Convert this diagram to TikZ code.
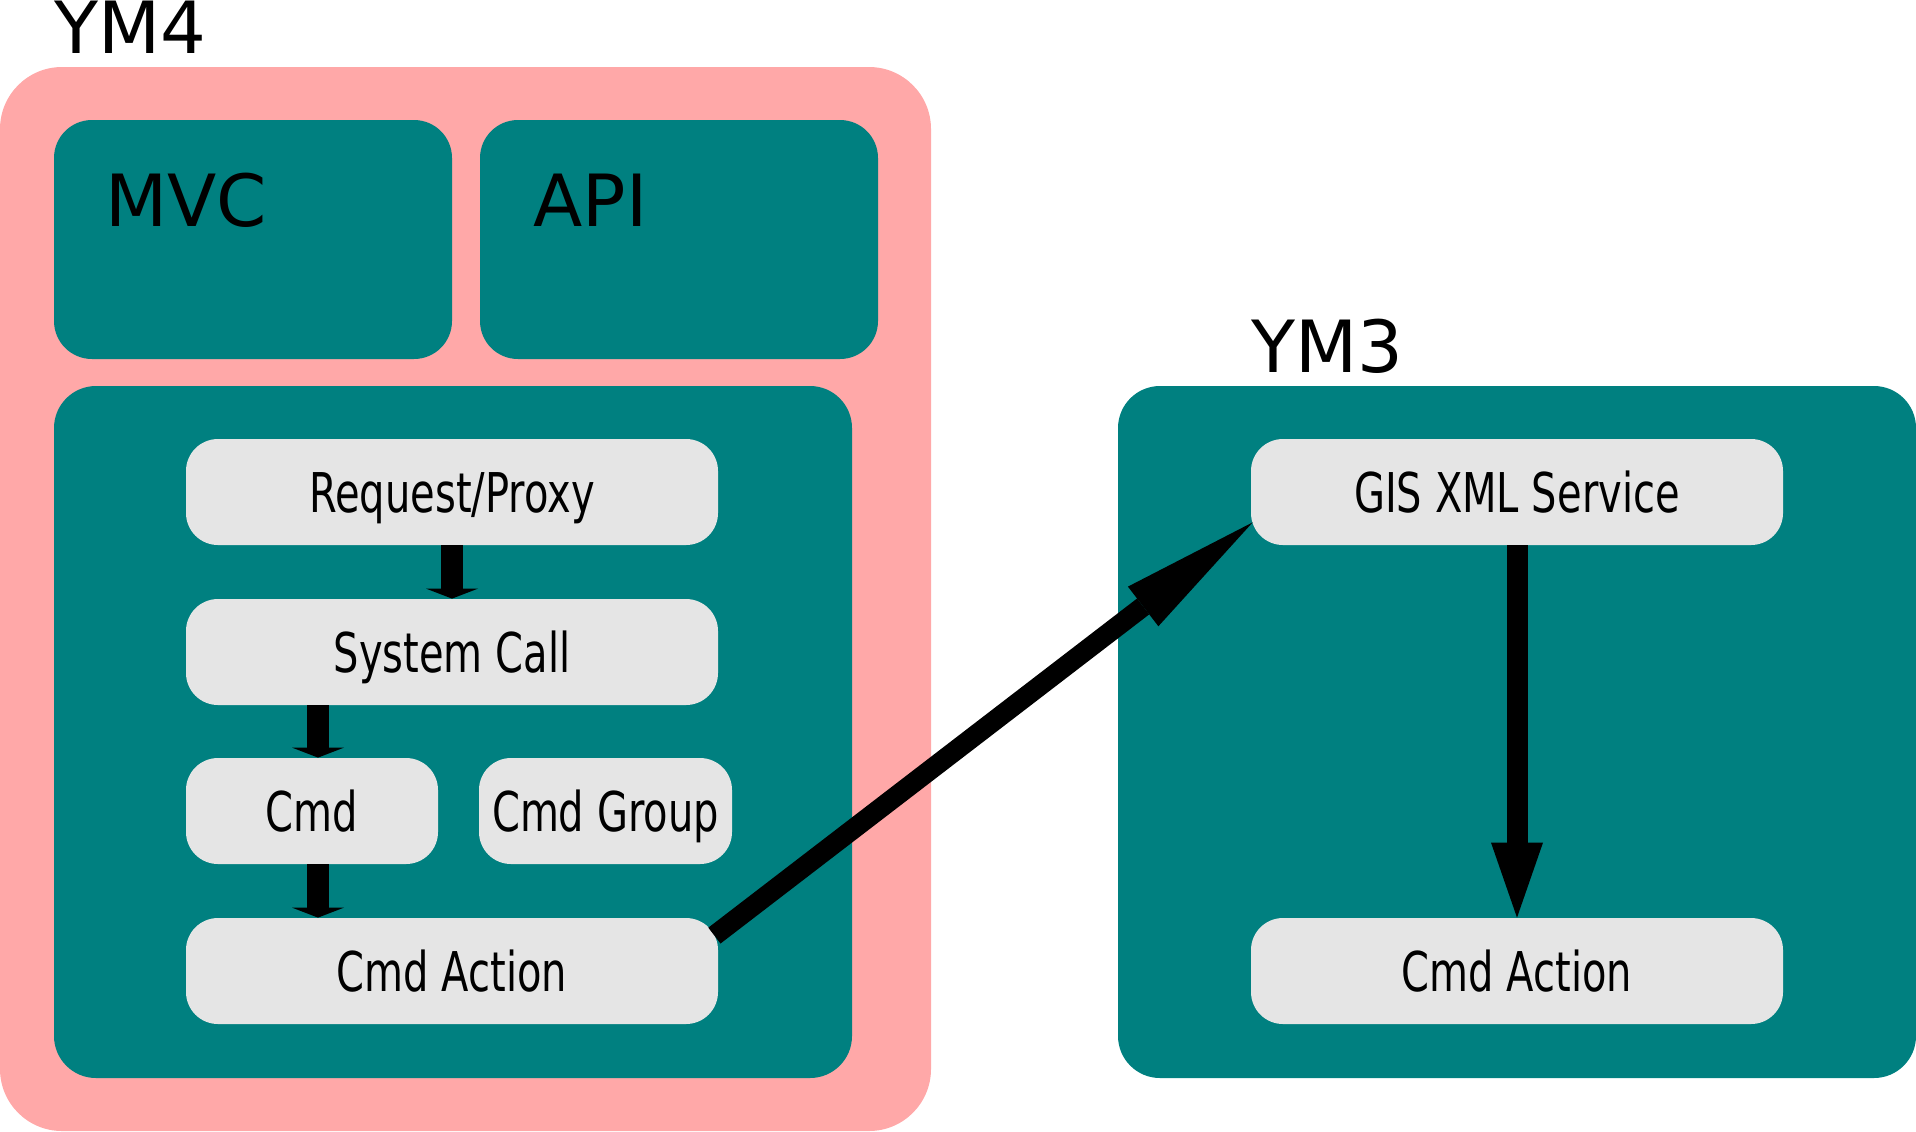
\documentclass[tikz,border=0pt]{standalone}
\usepackage{fontspec}
\setmainfont{DejaVu Sans}
\newfontfamily\narrowfont[FakeStretch=0.73]{DejaVu Sans}
\usetikzlibrary{arrows.meta}

\definecolor{ympink}{RGB}{255,168,168}
\definecolor{ymteal}{RGB}{0,128,128}
\definecolor{ymgray}{RGB}{229,229,229}

\tikzset{
    titletext/.style={anchor=base west, inner sep=0pt, font=\fontsize{36}{36}\selectfont},
    stepbox/.style={fill=ymgray, rounded corners=16pt, minimum width=266pt, minimum height=53pt,
                    font=\narrowfont\fontsize{27.4}{27.4}\selectfont, text height=20pt, text depth=0pt}
}

\begin{document}
\begin{tikzpicture}[x=0.5pt, y=-0.5pt]
\useasboundingbox (0,0) rectangle (1916,1131);

\begin{scope}[every node/.style={rectangle, inner sep=0pt}]
    \node (ym4) at (465.5, 599) [fill=ympink, rounded corners=31pt, minimum width=465.5pt, minimum height=532pt] {};
    \node (mvc) at (253, 239.5) [fill=ymteal, rounded corners=19pt, minimum width=199pt, minimum height=119.5pt] {};
    \node (api) at (679, 239.5) [fill=ymteal, rounded corners=19pt, minimum width=199pt, minimum height=119.5pt] {};
    \node (core) at (453, 732) [fill=ymteal, rounded corners=21pt, minimum width=399pt, minimum height=346pt] {};
    \node (ym3) at (1517, 732) [fill=ymteal, rounded corners=21pt, minimum width=399pt, minimum height=346pt] {};
\end{scope}

\node (ym4label) at (54, 53) [titletext] {YM4};
\node (mvclabel) at (105, 226) [titletext] {MVC};
\node (apilabel) at (533, 226) [titletext] {API};
\node (ym3label) at (1251, 372) [titletext] {YM3};

\begin{scope}[every node/.style={stepbox}]
    \node (req) at (452, 492) {Request/Proxy};
    \node (sys) at (452, 652) {System Call};
    \node (cmd) at (312, 811) [minimum width=126pt] {Cmd};
    \node (cmdg) at (605.5, 811) [minimum width=126.5pt] {Cmd Group};
    \node (cmdl) at (452, 971) {Cmd Action};

    \node (gis) at (1517, 492) {GIS XML Service};
    \node (cmdr) at (1517, 971) {Cmd Action};
\end{scope}

\begin{scope}[every edge/.style={draw=black, line width=11pt}]
    \path [-{Triangle[width=26pt, length=5pt, line width=0pt]}] (req) edge (sys);
    \path [-{Triangle[width=26pt, length=5pt, line width=0pt]}] ([xshift=3pt]sys.south -| cmd) edge ([xshift=3pt]cmd.north);
    \path [-{Triangle[width=26pt, length=5pt, line width=0pt]}] ([xshift=3pt]cmd.south) edge ([xshift=3pt]cmdl.north -| cmd);

    \path [-{Triangle[width=26pt, length=37.5pt, line width=0pt]}] (gis) edge [line width=10.5pt] (cmdr);

    \path [-{Triangle[width=25pt, length=69pt, line width=0pt]}] ([xshift=-2pt, yshift=-9pt]cmdl.north east)
        edge [line width=10pt] ([xshift=1pt, yshift=11.5pt]gis.south west);
\end{scope}

\end{tikzpicture}
\end{document}
